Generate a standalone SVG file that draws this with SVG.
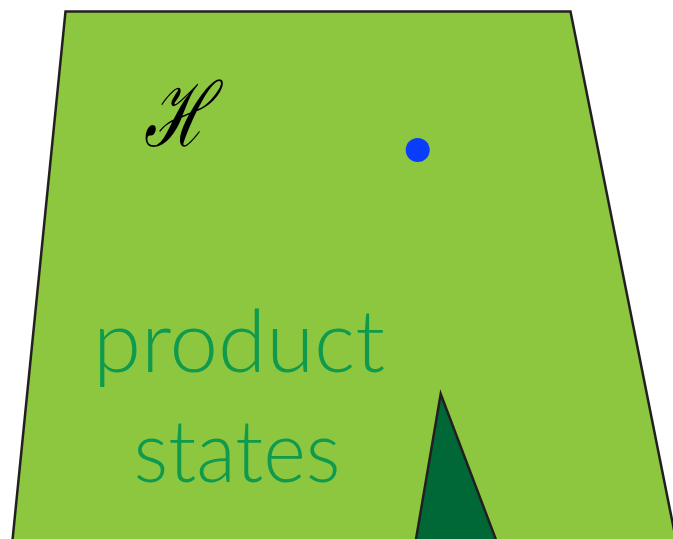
<svg xmlns="http://www.w3.org/2000/svg" width="673" height="539" viewBox="0 0 673 539">
<style>
.shape{stroke:#231f20;stroke-width:2.5;stroke-linejoin:miter}
.label{font-family:Lato,"Open Sans",sans-serif;font-weight:300;fill:#0f9a4e;font-size:86px}
</style>
<rect width="673" height="539" fill="#ffffff"/>
<g id="hilbert-space">
<polygon class="shape" fill="#8dc63f" points="65.5,11.5 570.5,11.5 677,545 12,545"/>
<text transform="translate(177,146) scale(0.7,1)" x="0" y="0" font-family="'DejaVu Serif',serif" font-style="italic" font-size="90" text-anchor="middle" fill="#000">ℋ</text>
</g>
<g id="state-dot">
<circle cx="417.7" cy="150" r="12" fill="#0a3cfc"/>
</g>
<g id="product-states">
<text class="label" x="239" y="372" text-anchor="middle" textLength="292" lengthAdjust="spacingAndGlyphs">product</text>
<text class="label" x="237" y="482" text-anchor="middle" textLength="207" lengthAdjust="spacingAndGlyphs">states</text>
</g>
<g id="cone">
<polygon class="shape" fill="#006837" points="440.7,394 498,545 415,545"/>
</g>
</svg>
